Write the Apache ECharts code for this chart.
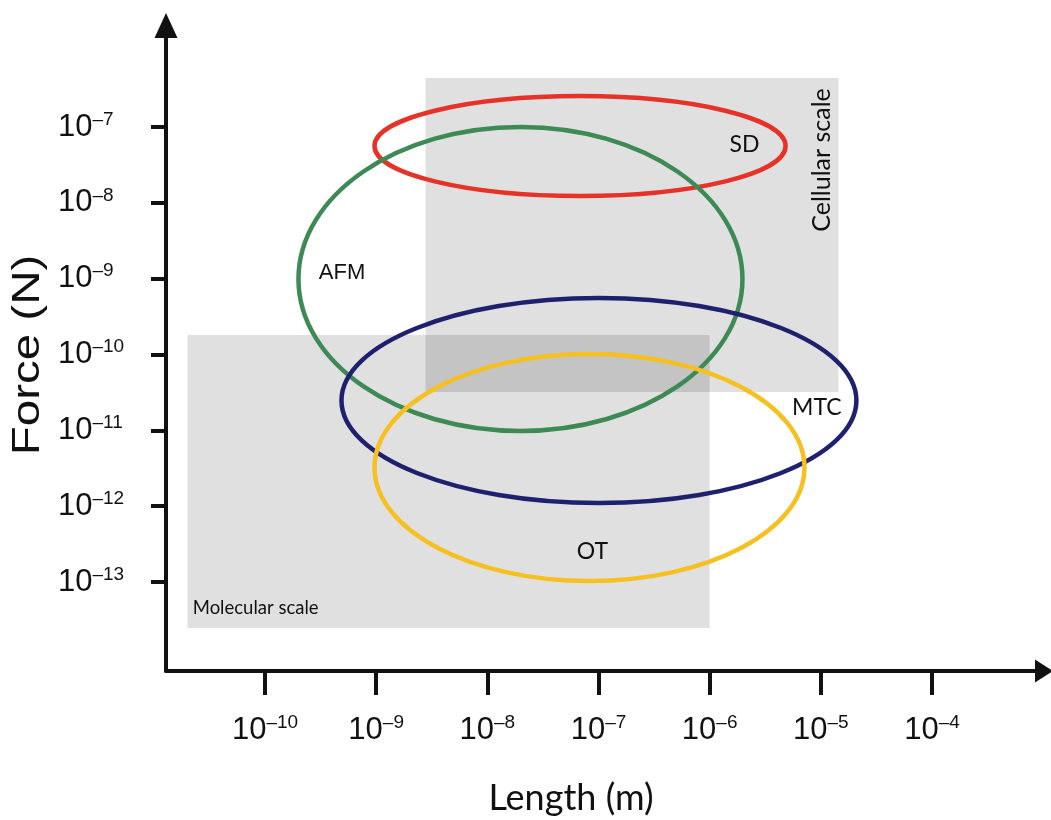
<!DOCTYPE html>
<html>
<head>
<meta charset="utf-8">
<script src="https://cdn.jsdelivr.net/npm/echarts@6/dist/echarts.min.js"></script>
<style>
html,body{margin:0;padding:0;background:#fff;}
#chart{width:1051px;height:820px;}
</style>
</head>
<body>
<div id="chart"></div>
<script>
// ---- data (log10 units) ----
const xTickExps = [-10, -9, -8, -7, -6, -5, -4];
const yTickExps = [-13, -12, -11, -10, -9, -8, -7];

const methodNames = ['SD', 'AFM', 'MTC', 'OT'];
const methodCenterLen = [-7.166, -7.702, -6.996, -7.081];   // log10 length (m)
const methodCenterForce = [-7.251, -9.004, -10.607, -11.490]; // log10 force (N)
const methodHalfLen = [1.849, 1.997, 2.316, 1.934];         // decades
const methodHalfForce = [0.659, 2.004, 1.352, 1.497];       // decades
const methodLabelLen = [-5.687, -9.307, -5.036, -7.054];
const methodLabelForce = [-7.237, -8.921, -10.699, -12.593];

const scaleNames = ['Cellular scale', 'Molecular scale'];
const scaleLenMin = [-8.556, -10.697];
const scaleLenMax = [-4.841, -6.0];
const scaleForceMin = [-10.495, -13.607];
const scaleForceMax = [-6.354, -9.743];
const scaleLabelLen = [-4.99, -10.65];
const scaleLabelForce = [-7.435, -13.343];

const xTitle = 'Length (m)';
const yTitle = 'Force (N)';

// ---- presentation ----
const methodColors = ['#e63329', '#3e8a55', '#1f216f', '#f6c020'];
const textColor = '#111';

const chart = echarts.init(document.getElementById('chart'), null, {renderer: 'canvas'});

const supLabel = v => '{b|10}{s|–' + Math.abs(v) + '}';
const labelRich = {
  b: {fontSize: 31, fontFamily: 'Liberation Sans, Arial, sans-serif', color: textColor, lineHeight: 34},
  s: {fontSize: 19, fontFamily: 'Liberation Sans, Arial, sans-serif', color: textColor, lineHeight: 17, verticalAlign: 'top'}
};

const scaleData = scaleNames.map((n, i) => [scaleLenMin[i], scaleForceMin[i], scaleLenMax[i], scaleForceMax[i], scaleLabelLen[i], scaleLabelForce[i], n]);
const methodData = methodNames.map((n, i) => [methodCenterLen[i], methodCenterForce[i], methodHalfLen[i], methodHalfForce[i], methodLabelLen[i], methodLabelForce[i], n]);

const option = {
  backgroundColor: '#fff',
  animation: false,
  grid: {left: 166, right: 7, top: 25.5, bottom: 149, containLabel: false, outerBoundsMode: 'none'},
  graphic: [
    {type: 'text', x: 29, y: 355, rotation: Math.PI / 2, scaleX: 1.25,
     style: {text: yTitle, font: '38px "Liberation Sans", Arial, sans-serif', fill: textColor,
             align: 'center', verticalAlign: 'middle'}}
  ],
  xAxis: {
    type: 'value', min: -10.8905, max: -2.9925,
    name: xTitle, nameLocation: 'middle', nameGap: 109,
    nameTextStyle: {fontSize: 36, fontFamily: 'Lato, sans-serif', color: textColor, padding: [0, 68, 0, 0]},
    axisLine: {show: true, lineStyle: {color: textColor, width: 4}, symbol: ['none', 'triangle'], symbolSize: [23, 18]},
    axisTick: {show: true, length: 24, lineStyle: {color: textColor, width: 4}, customValues: xTickExps},
    axisLabel: {show: true, margin: 42, customValues: xTickExps, formatter: supLabel, rich: labelRich},
    splitLine: {show: false}
  },
  yAxis: {
    type: 'value', min: -14.1737, max: -5.6615,
    axisLine: {show: true, lineStyle: {color: textColor, width: 4}, symbol: ['none', 'triangle'], symbolSize: [23, 25]},
    axisTick: {show: true, length: 15, lineStyle: {color: textColor, width: 4}, customValues: yTickExps},
    axisLabel: {show: true, margin: 108, align: 'left', customValues: yTickExps, formatter: supLabel, rich: labelRich},
    splitLine: {show: false}
  },
  series: [
    {
      type: 'custom', name: 'scales', coordinateSystem: 'cartesian2d', z: 1,
      data: scaleData,
      encode: {x: [0, 2], y: [1, 3]},
      renderItem: function (params, api) {
        const p1 = api.coord([api.value(0), api.value(3)]);
        const p2 = api.coord([api.value(2), api.value(1)]);
        const lp = api.coord([api.value(4), api.value(5)]);
        const isCell = params.dataIndex === 0;
        return {
          type: 'group',
          children: [
            {type: 'rect', shape: {x: p1[0], y: p1[1], width: p2[0] - p1[0], height: p2[1] - p1[1]},
             style: {fill: 'rgba(0,0,0,0.122)'}},
            {type: 'text', x: lp[0], y: lp[1], rotation: isCell ? Math.PI / 2 : 0, z2: 10,
             style: {text: scaleData[params.dataIndex][6], fill: textColor,
                     font: (isCell ? '25px' : '18.5px') + ' Lato, sans-serif',
                     align: isCell ? 'center' : 'left', verticalAlign: 'middle'}}
          ]
        };
      }
    },
    {
      type: 'custom', name: 'methods', coordinateSystem: 'cartesian2d', z: 3,
      data: methodData,
      encode: {x: 0, y: 1},
      renderItem: function (params, api) {
        const c = api.coord([api.value(0), api.value(1)]);
        const sz = api.size([api.value(2), api.value(3)]);
        const lp = api.coord([api.value(4), api.value(5)]);
        const i = params.dataIndex;
        return {
          type: 'group',
          children: [
            {type: 'ellipse', shape: {cx: c[0], cy: c[1], rx: sz[0], ry: sz[1]},
             style: {fill: null, stroke: methodColors[i], lineWidth: 4.5}},
            {type: 'text', x: lp[0], y: lp[1], z2: 10,
             style: {text: methodData[i][6], fill: textColor,
                     font: i === 1 ? '22px "Liberation Sans", Arial, sans-serif' : '23px Lato, sans-serif',
                     align: 'center', verticalAlign: 'middle'}}
          ]
        };
      }
    }
  ]
};
chart.setOption(option);
</script>
</body>
</html>
